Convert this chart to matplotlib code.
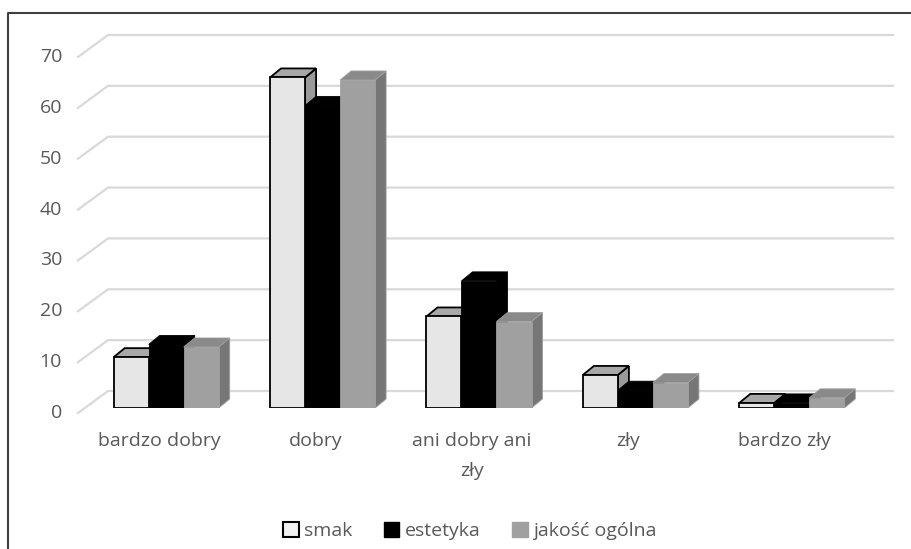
import matplotlib
matplotlib.use('Agg')
import matplotlib.pyplot as plt
from matplotlib.patches import Polygon, Patch
from matplotlib.lines import Line2D
import numpy as np

# data
categories = ['bardzo dobry', 'dobry', 'ani dobry ani\nzły', 'zły', 'bardzo zły']
smak = [10, 65, 18, 6.5, 1]
estetyka = [12.5, 59.5, 25, 3.5, 1]
jakosc = [12, 64.5, 17, 5, 2]
series_names = ['smak', 'estetyka', 'jakość ogólna']
yticks = [0, 10, 20, 30, 40, 50, 60, 70]

# colours: front, top, side, edge
styles = [
    ('#e6e6e6', '#a8a8a8', '#9a9a9a', '#000000'),
    ('#000000', '#000000', '#000000', '#000000'),
    ('#a0a0a0', '#8a8a8a', '#767676', '#a0a0a0'),
]

plt.rcParams['font.family'] = ['Open Sans', 'DejaVu Sans']
txt_col = '#595959'

W, H = 912, 549
fig = plt.figure(figsize=(W / 100, H / 100), dpi=100)
fig.patch.set_facecolor('white')

# axes placed in pixels: x=-0.5 at 88px, x=4.5 at 870px, y=0 at 408px, y=70 at 52px
px_x = (870 - 88) / 5.0
px_y = (408 - 52) / 70.0
ax = fig.add_axes([88 / W, (H - 408) / H, (870 - 88) / W, (408 - 52) / H])
ax.set_xlim(-0.5, 4.5)
ax.set_ylim(0, 70)
ax.axis('off')

# gridlines with perspective back wall
gx0 = (78 - 88) / px_x - 0.5
wall_dx = 30 / px_x
wall_dy = 22 / px_y
gx_end = (893 - 88) / px_x - 0.5
for v in yticks:
    y0 = v - 5 / px_y
    ax.plot([gx0, gx0 + wall_dx, gx_end], [y0, y0 + wall_dy, y0 + wall_dy],
            color='#d9d9d9', lw=1.6, clip_on=False, zorder=0)
    ax.text((62 - 88) / px_x - 0.5, y0, str(v), ha='right', va='center',
            fontsize=14, color=txt_col, clip_on=False)

# 3d-ish bars
bw = 35 / px_x
ddx = 11 / px_x
ddy = 9 / px_y
all_series = [smak, estetyka, jakosc]
z = 2
for i in range(len(categories)):
    for s, vals in enumerate(all_series):
        front, top, side, edge = styles[s]
        v = vals[i]
        x0 = i - 1.5 * bw + s * bw
        x1 = x0 + bw
        lw = 1.3 if s == 0 else 0.6
        ax.bar(x0, v, width=bw, align='edge', color=front, edgecolor=edge,
               linewidth=lw, zorder=z + 1)
        ax.add_patch(Polygon([(x1, 0), (x1 + ddx, ddy), (x1 + ddx, v + ddy), (x1, v)],
                             closed=True, facecolor=side, edgecolor=edge,
                             linewidth=lw, zorder=z))
        ax.add_patch(Polygon([(x0, v), (x0 + ddx, v + ddy), (x1 + ddx, v + ddy), (x1, v)],
                             closed=True, facecolor=top, edgecolor=edge,
                             linewidth=lw, zorder=z))
        z += 2

# category labels
for i, c in enumerate(categories):
    ax.text(i - 7 / px_x, -(432 - 408) / px_y, c, ha='center', va='top',
            fontsize=14, color=txt_col, linespacing=1.85, clip_on=False)

# legend
handles = [Patch(facecolor='#f2f2f2', edgecolor='#000000', linewidth=1.5),
           Patch(facecolor='#000000', edgecolor='#000000'),
           Patch(facecolor='#a0a0a0', edgecolor='#a0a0a0')]
leg = fig.legend(handles, series_names, loc='center', bbox_to_anchor=(470 / W, 1 - 531 / H),
                 ncol=3, frameon=False, fontsize=14, handlelength=0.8, handleheight=0.8,
                 handletextpad=0.3, columnspacing=1.6)
for t in leg.get_texts():
    t.set_color(txt_col)

# frame (top and left edges only, the rest is cut off)
fig.add_artist(Line2D([8 / W, 8 / W, 1], [0, 1 - 13 / H, 1 - 13 / H],
                      color='#404040', lw=1.5, transform=fig.transFigure))

fig.savefig('out.png', dpi=100)
plt.close()
